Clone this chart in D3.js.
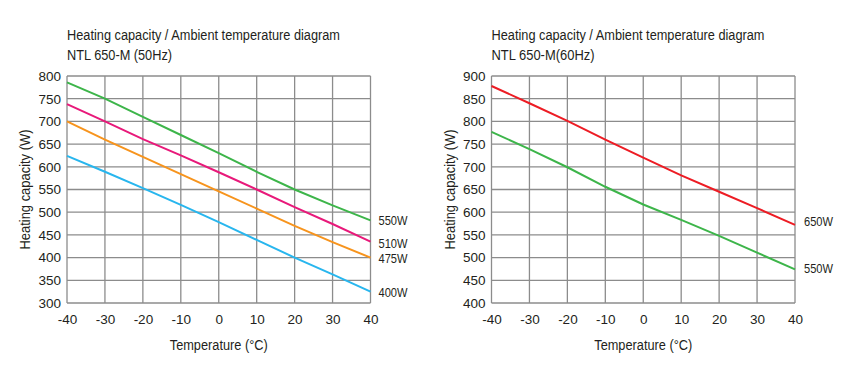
<!DOCTYPE html>
<html>
<head>
<meta charset="utf-8">
<script src="https://cdn.jsdelivr.net/npm/d3@7"></script>
<style>
	body { margin: 0; background: #fff; }
	svg { display: block; font-family: "Liberation Sans", Arial, sans-serif; }
</style>
</head>
<body>
<svg id="chart" width="861" height="371"></svg>
<script>
// --- data ---
var temps = [-40, -30, -20, -10, 0, 10, 20, 30, 40];

// 50Hz chart
var hz50Names = ["550W", "510W", "475W", "400W"];
var hz50Colors = ["#3db54a", "#e8197a", "#f7941d", "#28b6ee"];
var hz50_550 = [786, 750, 710, 670, 630, 589, 550, 515, 482];
var hz50_510 = [738, 700, 661, 625, 588, 550, 511, 474, 435];
var hz50_475 = [700, 660, 622, 584, 546, 508, 470, 434, 400];
var hz50_400 = [624, 589, 553, 516, 478, 439, 400, 363, 325];
var hz50Ticks = [300, 350, 400, 450, 500, 550, 600, 650, 700, 750, 800];

// 60Hz chart
var hz60Names = ["650W", "550W"];
var hz60Colors = ["#ed1c24", "#3db54a"];
var hz60_650 = [878, 840, 801, 760, 720, 681, 645, 609, 572];
var hz60_550 = [777, 739, 699, 656, 617, 583, 548, 511, 474];
var hz60Ticks = [400, 450, 500, 550, 600, 650, 700, 750, 800, 850, 900];

var svg = d3.select("#chart");
var textColor = "#231f20";

// Draw one diagram. x0/x1 = plot left/right in px.
function drawDiagram(opt) {
	var top = 76, bottom = 303;
	var g = svg.append("g");

	var xScale = d3.scaleLinear().domain([-40, 40]).range([opt.x0, opt.x1]);
	var yScale = d3.scaleLinear().domain(d3.extent(opt.yTicks)).range([bottom, top]);

	// titles
	g.append("text")
		.attr("x", opt.x0).attr("y", 39.5)
		.attr("font-size", 15.5).attr("fill", textColor)
		.attr("textLength", 273).attr("lengthAdjust", "spacingAndGlyphs")
		.text("Heating capacity / Ambient temperature diagram");
	g.append("text")
		.attr("x", opt.x0).attr("y", 59.5)
		.attr("font-size", 15.5).attr("fill", textColor)
		.attr("textLength", opt.subLen).attr("lengthAdjust", "spacingAndGlyphs")
		.text(opt.subtitle);

	// grid
	var gridColor = "#8c8c8c";
	g.append("g").selectAll("line")
		.data(temps)
		.enter().append("line")
		.attr("x1", function(d) { return xScale(d); })
		.attr("x2", function(d) { return xScale(d); })
		.attr("y1", top).attr("y2", bottom)
		.attr("stroke", gridColor).attr("stroke-width", 1.3);
	g.append("g").selectAll("line")
		.data(opt.yTicks)
		.enter().append("line")
		.attr("x1", opt.x0).attr("x2", opt.x1)
		.attr("y1", function(d) { return yScale(d); })
		.attr("y2", function(d) { return yScale(d); })
		.attr("stroke", gridColor).attr("stroke-width", 1.3);

	// axes (labels only, lines come from grid) - plain hyphen for negatives like the original
	var plain = function(d) { return String(d); };
	var xAxis = d3.axisBottom(xScale).tickValues(temps).tickFormat(plain).tickSize(0).tickPadding(11);
	var yAxis = d3.axisLeft(yScale).tickValues(opt.yTicks).tickFormat(plain).tickSize(0).tickPadding(6);
	var xg = g.append("g").attr("transform", "translate(0," + bottom + ")").call(xAxis);
	var yg = g.append("g").attr("transform", "translate(" + opt.x0 + ",0)").call(yAxis);
	[xg, yg].forEach(function(a) {
		a.select(".domain").remove();
		a.selectAll("text").attr("font-size", 13.5).attr("font-family", "Liberation Sans, Arial, sans-serif")
			.attr("fill", textColor);
	});

	// axis titles
	g.append("text")
		.attr("x", (opt.x0 + opt.x1) / 2).attr("y", 350)
		.attr("text-anchor", "middle").attr("font-size", 15.5).attr("fill", textColor)
		.attr("textLength", 98).attr("lengthAdjust", "spacingAndGlyphs")
		.text("Temperature (°C)");
	g.append("text")
		.attr("transform", "translate(" + (opt.x0 - 37) + "," + ((top + bottom) / 2) + ") rotate(-90)")
		.attr("text-anchor", "middle").attr("font-size", 15.5).attr("fill", textColor)
		.attr("textLength", 120).attr("lengthAdjust", "spacingAndGlyphs")
		.text("Heating capacity (W)");

	// series
	var line = d3.line()
		.x(function(d, i) { return xScale(temps[i]); })
		.y(function(d) { return yScale(d); });
	opt.series.forEach(function(s, i) {
		g.append("path")
			.datum(s)
			.attr("d", line)
			.attr("fill", "none")
			.attr("stroke", opt.colors[i])
			.attr("stroke-width", 2);
	});

	// end labels
	opt.names.forEach(function(name, i) {
		g.append("text")
			.attr("x", opt.x1 + opt.labelDx)
			.attr("y", opt.labelY[i] + 5)
			.attr("font-size", 13.5).attr("fill", textColor)
			.attr("textLength", 29).attr("lengthAdjust", "spacingAndGlyphs")
			.text(name);
	});
}

drawDiagram({
	x0: 67, x1: 370.5,
	yTicks: hz50Ticks,
	series: [hz50_550, hz50_510, hz50_475, hz50_400],
	colors: hz50Colors,
	names: hz50Names,
	labelY: [220, 243, 258, 292],
	labelDx: 8,
	subtitle: "NTL 650-M (50Hz)",
	subLen: 105
});

drawDiagram({
	x0: 491.5, x1: 795,
	yTicks: hz60Ticks,
	series: [hz60_650, hz60_550],
	colors: hz60Colors,
	names: hz60Names,
	labelY: [221, 268],
	labelDx: 9,
	subtitle: "NTL 650-M(60Hz)",
	subLen: 103
});
</script>
</body>
</html>
